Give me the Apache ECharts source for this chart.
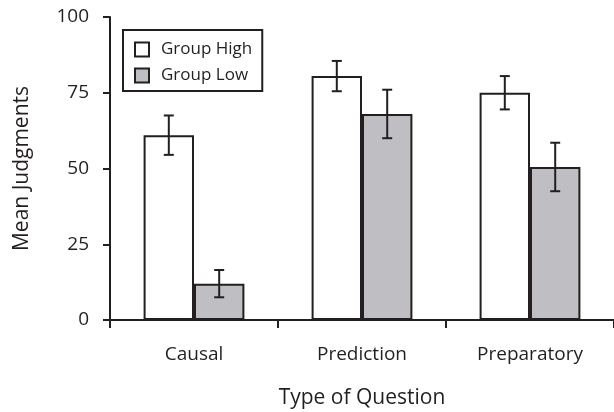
<!DOCTYPE html>
<html><head><meta charset="utf-8">
<script src="https://cdn.jsdelivr.net/npm/echarts@6/dist/echarts.min.js"></script>
<style>html,body{margin:0;padding:0;background:#fff}#c{width:614px;height:412px}</style>
</head><body><div id="c"></div>
<script>
const categories = ['Causal', 'Prediction', 'Preparatory'];
const groupHigh = [61, 80.5, 75];
const groupHighErr = [6.5, 5, 5.5];
const groupLow = [12, 68, 50.5];
const groupLowErr = [4.5, 8, 8];
const yTicks = [0, 25, 50, 75, 100];

const ink = '#231f20';
const font = 'Open Sans';
function errData(vals, errs) {
  return vals.map((v, i) => [i, v - errs[i], v + errs[i]]);
}
function errSeries(vals, errs, side) {
  return {
    type: 'custom', z: 10, silent: true,
    data: errData(vals, errs),
    encode: { x: 0, y: [1, 2] },
    renderItem: function (params, api) {
      const i = api.value(0);
      const band = api.size([1, 0])[0];
      const lo = api.coord([i, api.value(1)]);
      const hi = api.coord([i, api.value(2)]);
      const x = lo[0] + side * band * 0.15;
      const cap = 5;
      const st = { stroke: ink, lineWidth: 2 };
      return { type: 'group', children: [
        { type: 'line', shape: { x1: x, y1: lo[1], x2: x, y2: hi[1] }, style: st },
        { type: 'line', shape: { x1: x - cap, y1: lo[1], x2: x + cap, y2: lo[1] }, style: st },
        { type: 'line', shape: { x1: x - cap, y1: hi[1], x2: x + cap, y2: hi[1] }, style: st }
      ]};
    }
  };
}
const chart = echarts.init(document.getElementById('c'), null, { renderer: 'canvas' });
chart.setOption({
  animation: false,
  textStyle: { fontFamily: font, color: ink },
  grid: { left: 110, right: 0, top: 17, bottom: 92, containLabel: false, outerBoundsMode: 'none' },
  legend: {
    orient: 'vertical', left: 123, top: 30,
    padding: [11, 10, 7, 11], itemGap: 9,
    itemWidth: 14, itemHeight: 14, icon: 'rect',
    borderColor: ink, borderWidth: 2,
    textStyle: { fontFamily: font, fontSize: 17, color: ink, padding: [0, 0, 0, 7] },
    data: ['Group High', 'Group Low']
  },
  xAxis: {
    type: 'category', data: categories,
    name: 'Type of Question', nameLocation: 'middle', nameGap: 68,
    nameTextStyle: { fontFamily: font, fontSize: 21, color: ink },
    axisLine: { lineStyle: { color: ink, width: 2 } },
    axisTick: { show: true, length: 8, lineStyle: { color: ink, width: 2 } },
    axisLabel: { fontFamily: font, fontSize: 19, color: ink, margin: 25 },
    splitLine: { show: false }
  },
  yAxis: {
    type: 'value', min: yTicks[0], max: yTicks[yTicks.length - 1], interval: 25,
    name: 'Mean Judgments', nameLocation: 'middle', nameGap: 77,
    nameTextStyle: { fontFamily: font, fontSize: 21, color: ink },
    axisLine: { show: true, lineStyle: { color: ink, width: 2 } },
    axisTick: { show: true, length: 7, lineStyle: { color: ink, width: 2 } },
    axisLabel: { fontFamily: font, fontSize: 19, color: ink, margin: 21 },
    splitLine: { show: false }
  },
  series: [
    { name: 'Group High', type: 'bar', data: groupHigh, barWidth: '30%', barGap: '0%',
      itemStyle: { color: '#ffffff', borderColor: ink, borderWidth: 2 } },
    { name: 'Group Low', type: 'bar', data: groupLow, barWidth: '30%', barGap: '0%',
      itemStyle: { color: '#bfbfc3', borderColor: ink, borderWidth: 2 } },
    errSeries(groupHigh, groupHighErr, -1),
    errSeries(groupLow, groupLowErr, 1)
  ]
});
</script></body></html>
